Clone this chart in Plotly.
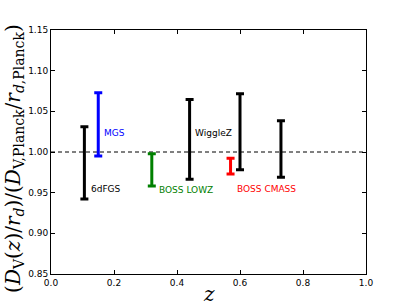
import plotly.graph_objects as go

# Data
surveys = ["6dFGS", "MGS", "BOSS LOWZ", "WiggleZ", "BOSS CMASS", "WiggleZ", "WiggleZ"]
z_vals = [0.106, 0.15, 0.32, 0.44, 0.57, 0.60, 0.73]
ratio = [0.9866, 1.034, 0.978, 1.0156, 0.9826, 1.025, 1.0037]
ratio_err = [0.0445, 0.039, 0.0197, 0.049, 0.0096, 0.0467, 0.0348]
colors = ["black", "#0000ff", "#008000", "black", "#ff0000", "black", "black"]

label_text = ["6dFGS", "MGS", "BOSS LOWZ", "WiggleZ", "BOSS CMASS"]
label_x = [0.12, 0.162, 0.335, 0.452, 0.585]
label_y = [0.954, 1.023, 0.953, 1.023, 0.954]
label_colors = ["black", "#0000ff", "#008000", "black", "#ff0000"]

x_ticks = [0.0, 0.2, 0.4, 0.6, 0.8, 1.0]
y_ticks = [0.85, 0.90, 0.95, 1.00, 1.05, 1.10, 1.15]

fig = go.Figure()

# reference line at 1
fig.add_trace(go.Scatter(x=[0, 1], y=[1, 1], mode="lines",
                         line=dict(color="black", width=1, dash="4px,3px"),
                         showlegend=False, hoverinfo="skip"))

for z, r, e, c in zip(z_vals, ratio, ratio_err, colors):
    fig.add_trace(go.Scatter(
        x=[z], y=[r], mode="markers",
        marker=dict(size=1, color="rgba(0,0,0,0)"),
        error_y=dict(type="data", array=[e], color=c, thickness=3, width=4),
        showlegend=False))

for t, x, y, c in zip(label_text, label_x, label_y, label_colors):
    fig.add_annotation(x=x, y=y, text=t, showarrow=False, xanchor="left",
                       yanchor="middle", font=dict(family="DejaVu Sans", size=9, color=c))

# axis titles
fig.add_annotation(xref="paper", yref="paper", x=-0.118, y=0.475,
                   text="(<i>D</i><sub>V</sub>(<i>z</i>)/<i>r</i><sub><i>d</i></sub>)/(<i>D</i><sub>V,Planck</sub>/<i>r</i><sub><i>d</i>,Planck</sub>)",
                   textangle=-90, showarrow=False, xanchor="center", yanchor="middle",
                   font=dict(family="DejaVu Serif", size=20, color="black"))
fig.add_annotation(xref="paper", yref="paper", x=0.5, y=-0.08,
                   text="<i>z</i>", showarrow=False, xanchor="center", yanchor="middle",
                   font=dict(family="DejaVu Serif", size=20, color="black"))

axis_common = dict(showline=True, linecolor="black", linewidth=1, mirror="ticks",
                   ticks="inside", ticklen=4, tickcolor="black", showgrid=False,
                   zeroline=False, tickfont=dict(family="DejaVu Sans", size=9, color="black"))

fig.update_xaxes(range=[0, 1], tickvals=x_ticks, tickformat=".1f", **axis_common)
fig.update_yaxes(range=[0.85, 1.15], tickvals=y_ticks, tickformat=".2f", **axis_common)

fig.update_layout(width=407, height=305, margin=dict(l=51, r=41, t=30, b=31),
                  plot_bgcolor="white", paper_bgcolor="white")

fig.write_html("out.html", config={"displayModeBar": False},
               post_script="document.body.style.margin='0';document.body.style.overflow='hidden';")
